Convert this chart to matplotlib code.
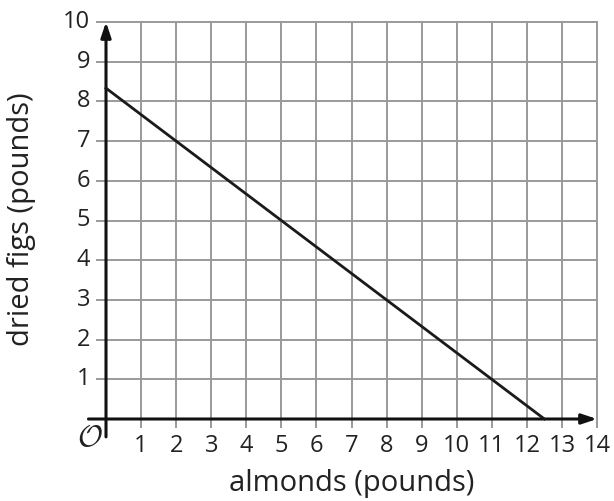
import matplotlib
matplotlib.use("Agg")
import matplotlib.pyplot as plt

x_ticks = list(range(1, 15))
y_ticks = list(range(1, 11))
line_x = [0, 12.5]
line_y = [25 / 3, 0]

plt.rcParams['font.family'] = ['Open Sans', 'DejaVu Sans']
plt.rcParams['mathtext.fontset'] = 'cm'

fig = plt.figure(figsize=(6.14, 5.01), dpi=100)
ax = fig.add_axes([106/614, 1 - 419/501, (597 - 106)/614, (419 - 22)/501])
ax.set_xlim(0, 14)
ax.set_ylim(0, 10)
ax.axis('off')

grid_c = '#9a9a9a'
for xv in x_ticks:
    ax.plot([xv, xv], [-0.2, 10], color=grid_c, lw=1.4, clip_on=False, zorder=1)
for yv in y_ticks:
    ax.plot([-0.25, 14], [yv, yv], color=grid_c, lw=1.4, clip_on=False, zorder=1)

# axes with arrows
ax.annotate('', xy=(14, 0), xytext=(-0.5, 0),
            arrowprops=dict(arrowstyle='-|>,head_length=0.9,head_width=0.3', color='#111111', lw=2.2,
                            shrinkA=0, shrinkB=0), annotation_clip=False, zorder=3)
ax.annotate('', xy=(0, 10), xytext=(0, -0.45),
            arrowprops=dict(arrowstyle='-|>,head_length=0.9,head_width=0.3', color='#111111', lw=2.2,
                            shrinkA=0, shrinkB=0), annotation_clip=False, zorder=3)

ax.plot(line_x, line_y, color='#1a1a1a', lw=2.0, zorder=4, clip_on=False)

for xv in x_ticks:
    ax.text(xv, -0.38, str(xv), ha='center', va='top', fontsize=17, color='#222222')
for yv in y_ticks:
    ax.text(-0.45, yv, str(yv), ha='right', va='center', fontsize=17, color='#222222')
ax.text(-0.1, -0.1, r'$\mathcal{O}$', ha='right', va='top', fontsize=22, color='#222222')

fig.text(352 / 614, 1 - 484/501, 'almonds (pounds)', ha='center', va='center',
         fontsize=21, color='#222222')
fig.text(22/614, 1 - 219/501, 'dried figs (pounds)', ha='center', va='center', rotation=90,
         fontsize=21, color='#222222')

fig.savefig('out.png', dpi=100)
